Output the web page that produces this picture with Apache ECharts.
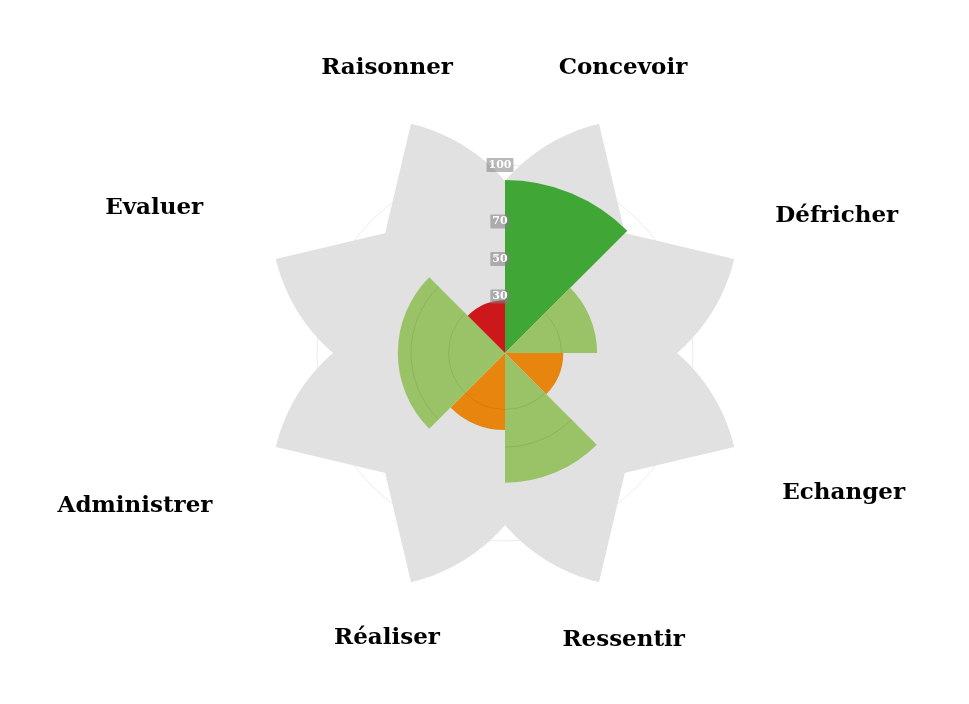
<!DOCTYPE html>
<html><head><meta charset="utf-8">
<script src="https://cdn.jsdelivr.net/npm/echarts@6/dist/echarts.min.js"></script>
<style>html,body{margin:0;padding:0;background:#fff}#c{width:969px;height:704px}</style>
</head><body><div id="c"></div>
<script>
// ---- data ----
const categories = ['Concevoir', 'Défricher', 'Echanger', 'Ressentir', 'Réaliser', 'Administrer', 'Evaluer', 'Raisonner'];
const scores = [92, 49, 31, 69, 41, 57, 57, 28];
const tickValues = [30, 50, 70, 100];
const tickLabels = ['30', '50', '70', '100'];

// ---- layout / style ----
const LAYOUT = {
  center: [505, 353],
  radius: 188,
  labelRadius: [164, 191, 195, 165, 164, 213, 202, 164]
};
const PETAL = { offset: 0.777, len: 0.947, tip: 35.8, end: 80.8, core: 0.878, color: '#e1e1e1' };
const GRID_COLOR = 'rgba(0,0,0,0.08)';
const COLORS = { low: '#cc181b', mid: '#e8850e', good: '#9ac266', top: '#40a636' };
function scoreColor(v) {
  if (v < 30) return COLORS.low;
  if (v < 45) return COLORS.mid;
  if (v < 80) return COLORS.good;
  return COLORS.top;
}

const chart = echarts.init(document.getElementById('c'));
const deg = Math.PI / 180;
const dir = a => [Math.sin(a), -Math.cos(a)];
const half = 180 / categories.length;

function geom(api, idx) {
  const c = api.coord([0, idx]);
  const p = api.coord([100, idx]);
  const dx = p[0] - c[0], dy = p[1] - c[1];
  return { c: c, R: Math.hypot(dx, dy), theta: Math.atan2(dx, -dy) };
}

chart.setOption({
  animation: false,
  polar: { center: LAYOUT.center, radius: LAYOUT.radius },
  angleAxis: {
    type: 'category', data: categories, startAngle: 90, clockwise: true,
    axisLine: { show: false }, axisTick: { show: false }, axisLabel: { show: false },
    splitLine: { show: false }
  },
  radiusAxis: {
    type: 'value', min: 0, max: 100, z: 10,
    axisLine: { show: false },
    axisTick: { show: false, customValues: tickValues },
    splitLine: { show: false },
    axisLabel: {
      customValues: tickValues,
      formatter: v => tickLabels[tickValues.indexOf(v)] || '',
      color: '#fff', fontFamily: 'DejaVu Serif', fontSize: 11, fontWeight: 'bold',
      backgroundColor: 'rgba(128,128,128,0.55)', padding: [2, 2, 1, 2], borderRadius: 1,
      margin: 5, align: 'center', verticalAlign: 'middle'
    }
  },
  series: [
    {
      // grid circles under the petals
      type: 'custom', coordinateSystem: 'polar', silent: true, z: 0,
      data: tickValues.map(t => [t, 0]),
      encode: { radius: 0, angle: 1 },
      renderItem: function (params, api) {
        const c = api.coord([0, 0]);
        const p = api.coord([api.value(0), 0]);
        return { type: 'circle', shape: { cx: c[0], cy: c[1], r: Math.hypot(p[0] - c[0], p[1] - c[1]) },
          style: { fill: 'none', stroke: GRID_COLOR, lineWidth: 1 } };
      }
    },
    {
      type: 'custom', coordinateSystem: 'polar', silent: true, z: 1,
      data: categories.map((c, i) => [100, i]),
      encode: { radius: 0, angle: 1 },
      renderItem: function (params, api) {
        const idx = params.dataIndex;
        const g = geom(api, idx);
        const c = g.c, R = g.R, theta = g.theta;
        const s = idx % 2 === 0 ? -1 : 1;
        const ad = dir(theta - s * 45 * deg);
        const A = [c[0] + PETAL.offset * R * ad[0], c[1] + PETAL.offset * R * ad[1]];
        const pts = [A];
        const N = 40;
        for (let t = 0; t <= N; t++) {
          const phi = theta + s * (PETAL.tip + (PETAL.end - PETAL.tip) * t / N) * deg;
          const d = dir(phi);
          pts.push([A[0] + PETAL.len * R * d[0], A[1] + PETAL.len * R * d[1]]);
        }
        return {
          type: 'group', children: [
            { type: 'circle', shape: { cx: c[0], cy: c[1], r: PETAL.core * R }, style: { fill: PETAL.color } },
            { type: 'polygon', shape: { points: pts }, style: { fill: PETAL.color } }
          ]
        };
      }
    },
    {
      type: 'bar', coordinateSystem: 'polar', z: 2, barCategoryGap: '0%', barGap: '0%',
      data: scores.map(v => ({ value: v, itemStyle: { color: scoreColor(v) } }))
    },
    {
      // grid arcs drawn over the bars (not over the top-level bar)
      type: 'custom', coordinateSystem: 'polar', silent: true, z: 3,
      data: scores.map((v, i) => [v, i]),
      encode: { radius: 0, angle: 1 },
      renderItem: function (params, api) {
        const idx = params.dataIndex;
        const v = api.value(0);
        const g = geom(api, idx);
        const children = [];
        if (scoreColor(v) !== COLORS.top) {
          tickValues.forEach(t => {
            if (t < v - 1) {
              const r = g.R * t / 100;
              children.push({ type: 'arc', shape: { cx: g.c[0], cy: g.c[1], r: r,
                startAngle: g.theta - half * deg - Math.PI / 2, endAngle: g.theta + half * deg - Math.PI / 2, clockwise: true },
                style: { fill: 'none', stroke: GRID_COLOR, lineWidth: 1 } });
            }
          });
        }
        return { type: 'group', children: children };
      }
    },
    {
      type: 'scatter', coordinateSystem: 'polar', clip: false, silent: true, symbolSize: 0, z: 4,
      itemStyle: { opacity: 1 },
      data: categories.map((c, i) => ({ name: c, value: [LAYOUT.labelRadius[i], i] })),
      label: {
        show: true, position: 'inside', formatter: '{b}',
        fontFamily: 'DejaVu Serif', fontWeight: 'bold', fontSize: 23, color: '#000'
      }
    }
  ]
});
</script></body></html>
